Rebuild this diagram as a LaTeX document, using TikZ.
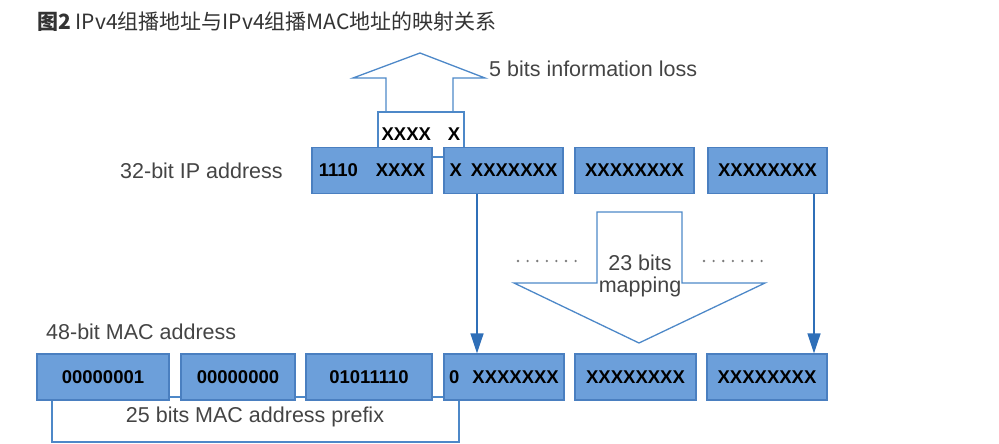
\documentclass[tikz,border=0pt]{standalone}
\usepackage{fontspec}
\setmainfont{Liberation Sans}
\newfontfamily\cjkfont{Noto Sans CJK SC}
\usetikzlibrary{arrows.meta}
\definecolor{boxfill}{HTML}{6C9FDA}
\definecolor{boxline}{HTML}{4A7FC0}
\definecolor{outl}{HTML}{4D88C8}
\definecolor{arrowc}{HTML}{2F6FB8}
\definecolor{labelc}{HTML}{444444}
\definecolor{titlec}{HTML}{333333}
\tikzset{
  bitbox/.style={draw=boxline, line width=1.2pt, fill=boxfill, minimum height=46pt, inner sep=0pt,
    font=\bfseries\fontsize{18.5}{20}\selectfont, text=black},
  outline/.style={draw=outl, line width=1.3pt},
  lbl/.style={text=labelc, font=\fontsize{21.5}{24}\selectfont, inner sep=0pt},
  maparrow/.style={draw=arrowc, line width=1.5pt, -{Triangle[width=13pt,length=20pt]}},
}
\begin{document}
\begin{tikzpicture}[x=1pt,y=-1pt]
\useasboundingbox (0,0) rectangle (999,444);
% title
\node[anchor=west, inner sep=0pt, text=titlec, font=\cjkfont\fontsize{21}{24}\selectfont] (title) at (37,22) {\textbf{图2} IPv4组播地址与IPv4组播MAC地址的映射关系};
% lost bits box (behind)
\draw[outline, fill=white] (378,112) rectangle (464,157);
\node[inner sep=0pt, font=\bfseries\fontsize{18.5}{20}\selectfont] (lost) at (421,134) {XXXX\hspace{17pt}X};
% up arrow
\draw[outline] (386,112) -- (386,78) -- (353,78) -- (420,53) -- (485,78) -- (453,78) -- (453,112);
\node[lbl, anchor=west] (lossl) at (489,69) {5 bits information loss};
% IP row
\node[lbl, anchor=west] (ipl) at (120,171) {32-bit IP address};
\node[bitbox, minimum width=120pt] (ip1) at (372,170.5) {1110\hspace{18pt}XXXX};
\node[bitbox, minimum width=119pt] (ip2) at (503.5,170.5) {X\hspace{9pt}XXXXXXX};
\node[bitbox, minimum width=119pt] (ip3) at (634.5,170.5) {XXXXXXXX};
\node[bitbox, minimum width=119pt] (ip4) at (767.5,170.5) {XXXXXXXX};
% big down arrow
\draw[outline] (597,283) -- (597,212) -- (682,212) -- (682,283) -- (765,283) -- (639,343) -- (514,283) -- cycle;
\node[lbl] (m1) at (640,263) {23 bits};
\node[lbl] (m2) at (640,287) {mapping};
\foreach \i in {0,...,6} {
  \fill[labelc!70] (518+\i*9.6,261) circle (1.3pt);
  \fill[labelc!70] (704+\i*9.6,261) circle (1.3pt);
}
% prefix bracket (behind)
\draw[outline] (52,397) rectangle (459,442);
\node[lbl] (pref) at (255,417) {25 bits MAC address prefix};
% MAC row
\node[lbl, anchor=west] (macl) at (46,332) {48-bit MAC address};
\node[bitbox, minimum width=132pt] (mac1) at (103,377) {00000001};
\node[bitbox, minimum width=114pt] (mac2) at (238,377) {00000000};
\node[bitbox, minimum width=126pt] (mac3) at (369,377) {01011110};
\node[bitbox, minimum width=120pt] (mac4) at (504,377) {0\hspace{13pt}XXXXXXX};
\node[bitbox, minimum width=121pt] (mac5) at (635.5,377) {XXXXXXXX};
\node[bitbox, minimum width=120pt] (mac6) at (767,377) {XXXXXXXX};
% mapping arrows
\coordinate (ax1) at (477,0);
\coordinate (ax2) at (814,0);
\draw[maparrow] (ip2.south -| ax1) -- (mac4.north -| ax1);
\draw[maparrow] (ip4.south -| ax2) -- (mac6.north -| ax2);
\end{tikzpicture}
\end{document}
